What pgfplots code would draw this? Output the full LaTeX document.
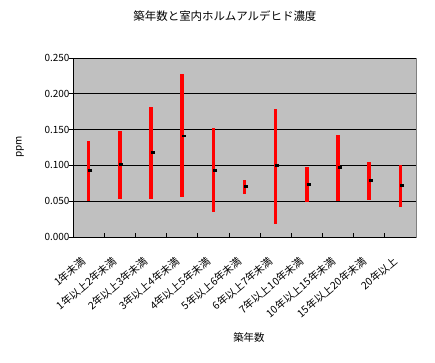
\documentclass[border=0pt]{standalone}
\usepackage{pgfplots}
\pgfplotsset{compat=1.18}
\usepackage{pgfplotstable}
\usepackage{fontspec}
\setmainfont{Noto Sans CJK JP}
\definecolor{plotbg}{RGB}{192,192,192}
\pgfplotstableread{
i m hi lo
0 0.093 0.1345 0.050
1 0.1015 0.148 0.0535
2 0.118 0.181 0.0535
3 0.141 0.228 0.0563
4 0.093 0.152 0.0354
5 0.0703 0.0796 0.0605
6 0.0996 0.179 0.0186
7 0.073 0.098 0.049
8 0.0968 0.1425 0.050
9 0.0787 0.1047 0.052
10 0.0716 0.1006 0.0423
}\datatable
\begin{document}
\begin{tikzpicture}
\path[use as bounding box] (-73bp,-126bp) rectangle (362bp,237bp);
\begin{axis}[
  at={(0,0)}, anchor=south west,
  scale only axis, width=343bp, height=179bp,
  xmin=-0.5, xmax=10.5, ymin=0, ymax=0.25,
  axis background/.style={fill=plotbg, draw=gray},
  axis x line*=bottom, axis y line*=left,
  axis line style={black,-,line width=0.8bp},
  ytick={0,0.05,0.1,0.15,0.2,0.25},
  yticklabel style={font=\fontsize{10}{12}\selectfont, /pgf/number format/fixed, /pgf/number format/fixed zerofill, /pgf/number format/precision=3, /pgf/number format/assume math mode=true},
  ymajorgrids, grid style={black, line width=0.8bp},
  major tick length=4bp, minor tick length=4bp,
  tick align=inside,
  major y tick style={black, line width=0.8bp, xshift=-4bp},
  major x tick style={draw=none},
  minor x tick style={black, line width=0.8bp},
  xtick={-0.115,0.885,1.885,2.885,3.885,4.885,5.885,6.885,7.885,8.885,9.885},
  minor xtick={0.5,1.5,2.5,3.5,4.5,5.5,6.5,7.5,8.5,9.5},
  xticklabels={1年未満,1年以上2年未満,2年以上3年未満,3年以上4年未満,4年以上5年未満,5年以上6年未満,6年以上7年未満,7年以上10年未満,10年以上15年未満,15年以上20年未満,20年以上},
  xticklabel shift=22bp,
  x tick label style={rotate=40, anchor=east, font=\fontsize{10.5}{12}\selectfont, inner sep=1pt},
  title={築年数と室内ホルムアルデヒド濃度},
  title style={at={(axis description cs:0.443,1.20)}, anchor=center, font=\fontsize{11.5}{13}\selectfont},
  xlabel={築年数},
  xlabel style={at={(axis description cs:0.513,-0.564)}, anchor=center, font=\fontsize{10.5}{12}\selectfont},
  ylabel={ppm},
  ylabel style={at={(axis description cs:-0.1545,0.503)}, anchor=center, font=\fontsize{10}{12}\selectfont},
  clip=false,
]
\addplot[draw=none, mark=none, forget plot,
  error bars/.cd, y dir=both, y explicit,
  error bar style={red, line width=3.5bp}, error mark=none]
  table[x=i, y=m, y error plus expr=\thisrow{hi}-\thisrow{m}, y error minus expr=\thisrow{m}-\thisrow{lo}] {\datatable};
\addplot[only marks, mark=-, mark size=2bp, xshift=1.7bp,
  mark options={black, line width=2.5bp}]
  table[x=i, y=m] {\datatable};
\end{axis}
\end{tikzpicture}
\end{document}
